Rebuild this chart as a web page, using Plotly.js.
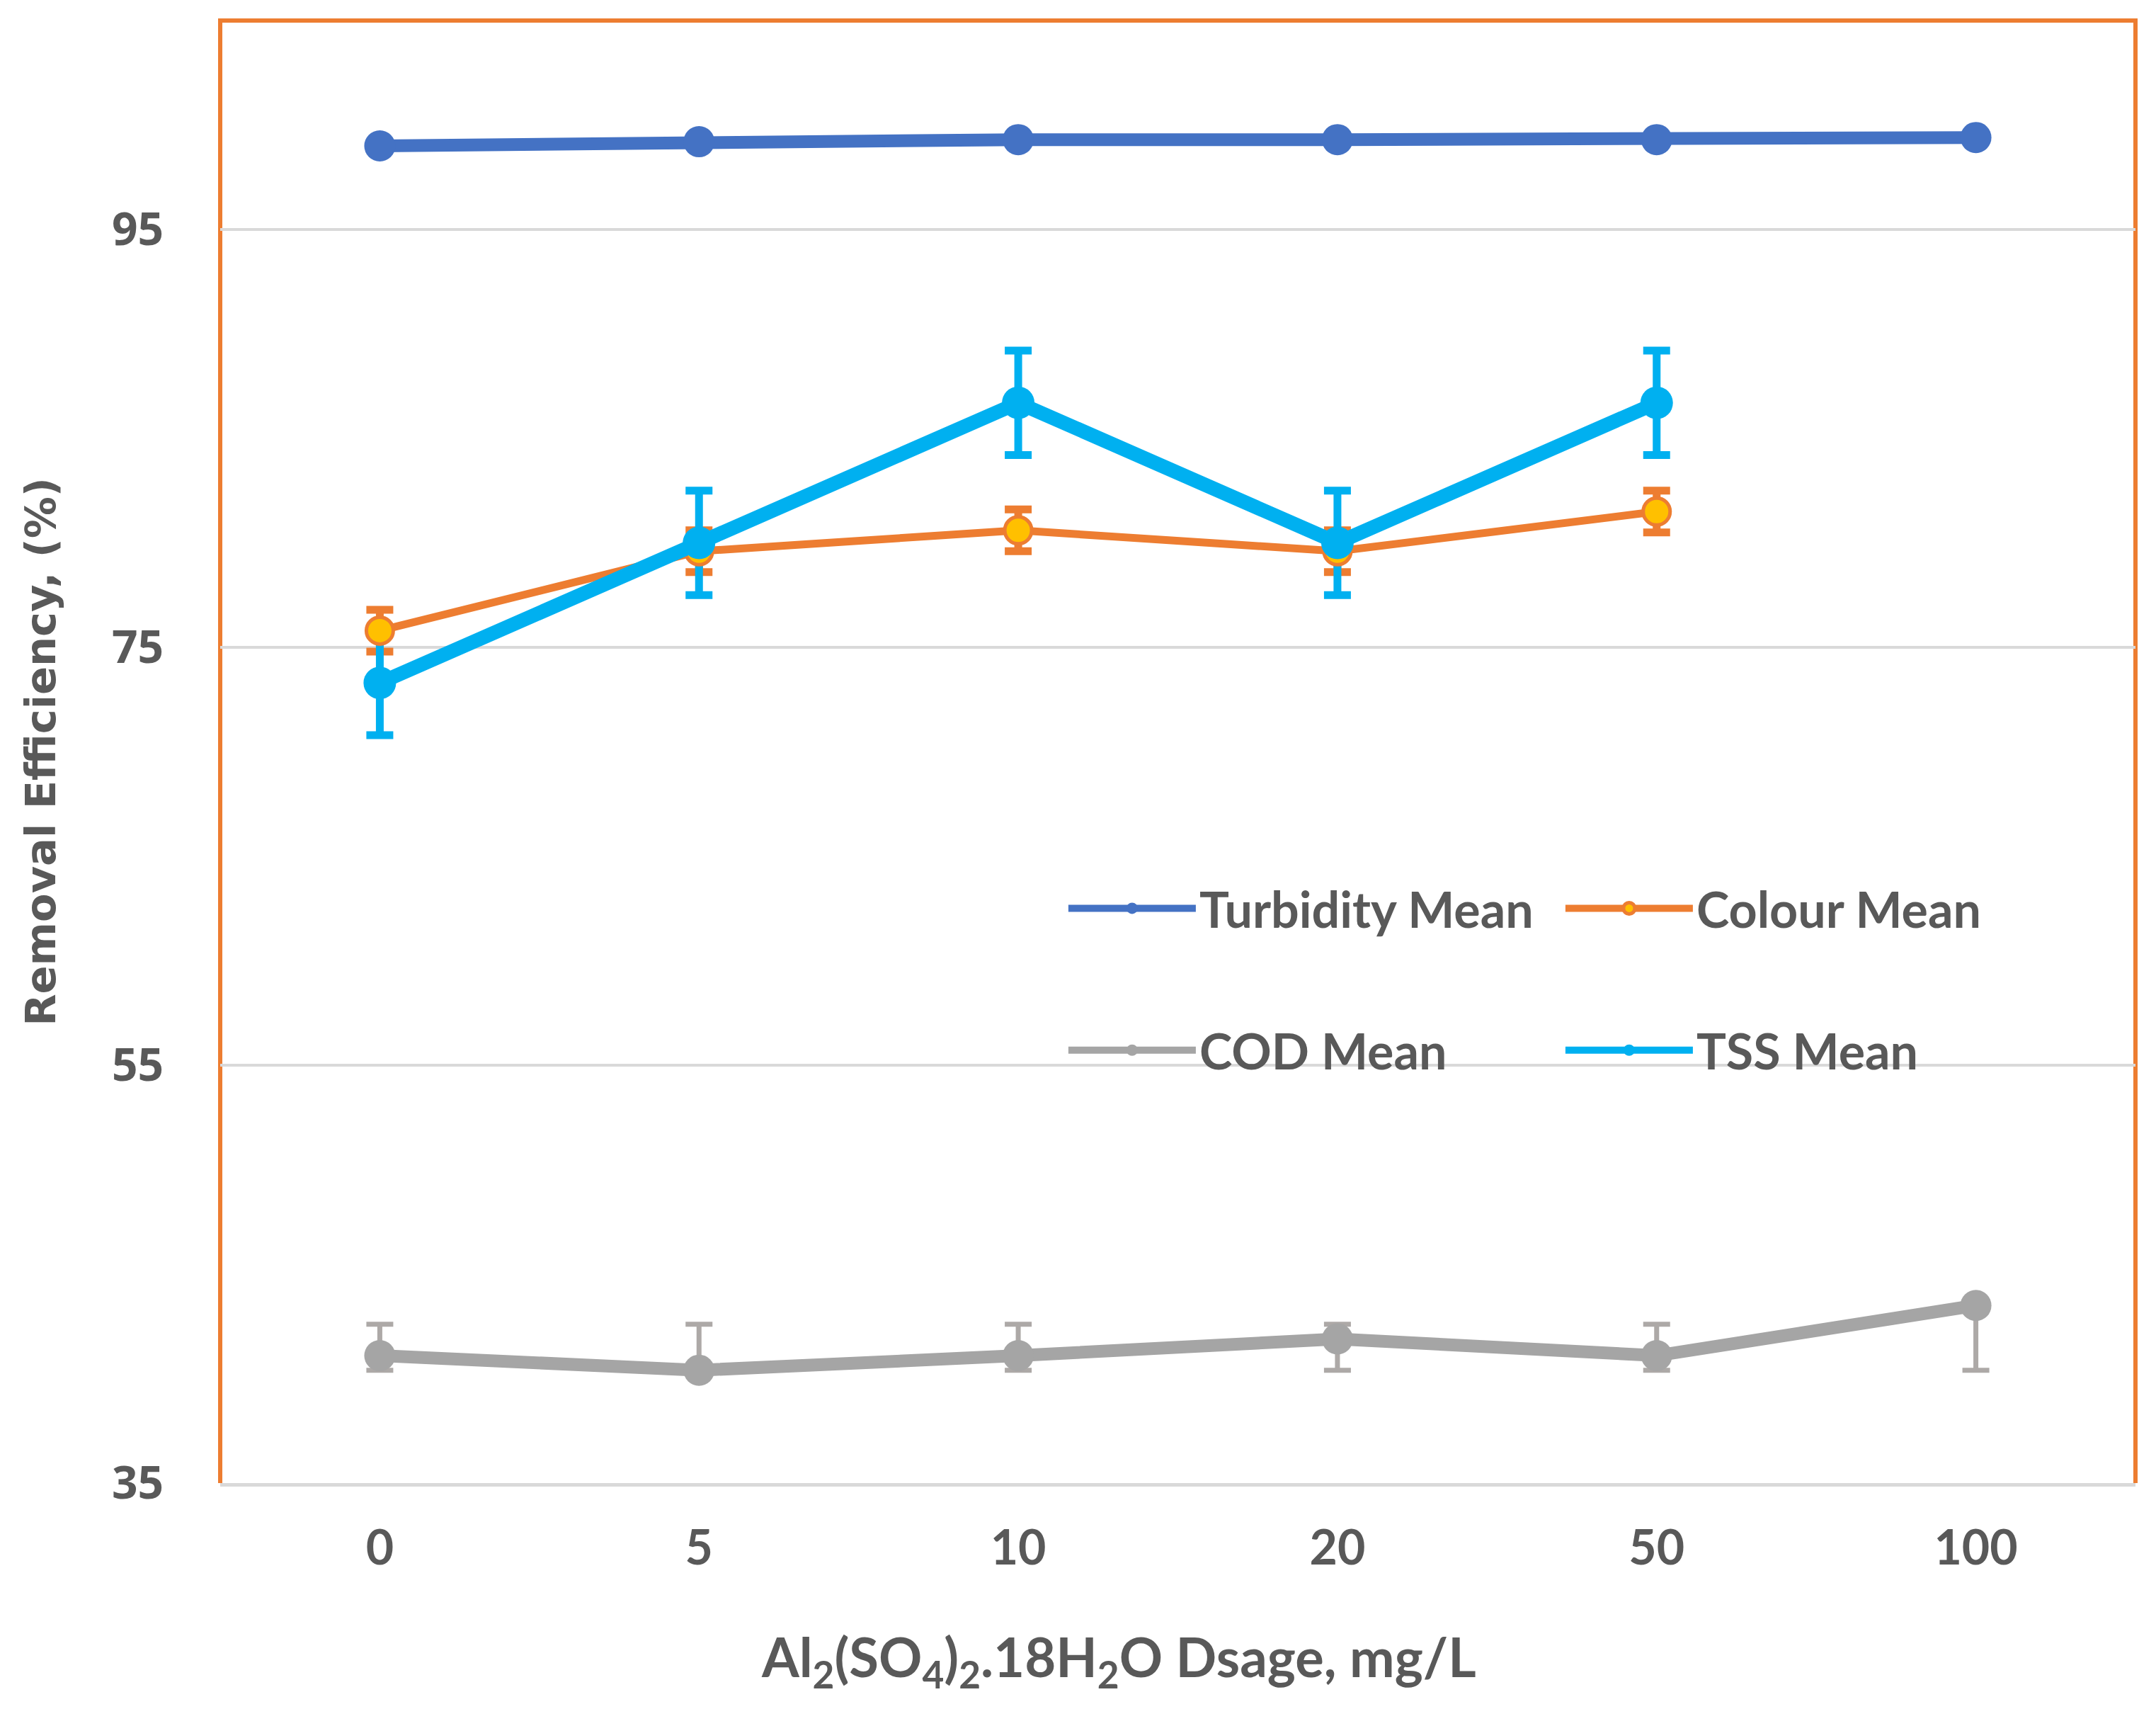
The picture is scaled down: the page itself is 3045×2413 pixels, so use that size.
<!DOCTYPE html>
<html>
<head>
<meta charset="utf-8">
<script src="https://cdn.plot.ly/plotly-3.0.1.min.js"></script>
<style>
  html, body { margin: 0; padding: 0; background: #ffffff; }
  #chart { width: 3045px; height: 2413px; }
</style>
</head>
<body>
<div id="chart"></div>
<script>
    // --- DATA ---
    const doses = ['0', '5', '10', '20', '50', '100'];
    const yTicks = [35, 55, 75, 95];

    const turbidityMean = [99.0, 99.2, 99.3, 99.3, 99.3, 99.4];

    const colourMean = [75.8, 79.6, 80.6, 79.6, 81.5];
    const colourErr = [1.0, 1.0, 1.0, 1.0, 1.0];

    const codMean = [41.1, 40.4, 41.1, 41.9, 41.1, 43.5];
    const codErrPlus = [1.5, 2.2, 1.5, 0.7, 1.5, 0];
    const codErrMinus = [0.7, 0, 0.7, 1.5, 0.7, 3.1];

    const tssMean = [73.3, 80.0, 86.7, 80.0, 86.7];
    const tssErr = [2.5, 2.5, 2.5, 2.5, 2.5];

    // --- PALETTE ---
    const colors = {
        blue: '#4472C4',
        orange: '#ED7D31',
        gold: '#FFC000',
        grey: '#A5A5A5',
        greyBar: '#ADA9A7',
        cyan: '#00B0F0',
        text: '#595959',
        grid: '#D9D9D9'
    };

    const narrow = 'Lato, "Open Sans", sans-serif';
    const boldFont = (size) => ({ family: narrow, size: size, color: colors.text, weight: 'bold' });

    // error bars go first so the markers sit on top of them
    function errorOnly(x, y, err, color, thickness) {
        return {
            type: 'scatter', mode: 'markers', x: x, y: y,
            marker: { size: 2, opacity: 0 },
            error_y: Object.assign({ type: 'data', visible: true, color: color, thickness: thickness, width: 19 }, err),
            showlegend: false, hoverinfo: 'skip'
        };
    }

    const traces = [
        errorOnly(doses.slice(0, 5), colourMean, { array: colourErr }, colors.orange, 11),
        errorOnly(doses.slice(0, 5), tssMean, { array: tssErr }, colors.cyan, 11),
        errorOnly(doses, codMean, { symmetric: false, array: codErrPlus, arrayminus: codErrMinus }, colors.greyBar, 7),
        {
            type: 'scatter', mode: 'lines+markers', name: 'Turbidity Mean',
            x: doses, y: turbidityMean,
            line: { color: colors.blue, width: 18 },
            marker: { color: colors.blue, size: 44 },
            legend: 'legend'
        },
        {
            type: 'scatter', mode: 'lines+markers', name: 'Colour Mean',
            x: doses.slice(0, 5), y: colourMean,
            line: { color: colors.orange, width: 11 },
            marker: { color: colors.gold, size: 38, line: { color: colors.orange, width: 5 } },
            legend: 'legend'
        },
        {
            type: 'scatter', mode: 'lines+markers', name: 'COD Mean',
            x: doses, y: codMean,
            line: { color: colors.grey, width: 18 },
            marker: { color: colors.grey, size: 44 },
            legend: 'legend2'
        },
        {
            type: 'scatter', mode: 'lines+markers', name: 'TSS Mean',
            x: doses.slice(0, 5), y: tssMean,
            line: { color: colors.cyan, width: 20 },
            marker: { color: colors.cyan, size: 46 },
            legend: 'legend2'
        }
    ];

    const legendBase = {
        orientation: 'h',
        x: 0.441, xanchor: 'left',
        yanchor: 'middle',
        entrywidth: 507, entrywidthmode: 'pixels',
        itemwidth: 180,
        bgcolor: 'rgba(0,0,0,0)',
        font: boldFont(70)
    };

    const layout = {
        width: 3045,
        height: 2413,
        margin: { l: 311, r: 29, t: 29, b: 319 },
        paper_bgcolor: '#ffffff',
        plot_bgcolor: '#ffffff',
        showlegend: true,
        xaxis: {
            type: 'category',
            range: [-0.5, 5.5],
            showgrid: false,
            zeroline: false,
            showline: true,
            linecolor: colors.grid,
            linewidth: 5,
            ticks: 'outside',
            ticklen: 28,
            tickcolor: 'rgba(0,0,0,0)',
            tickfont: boldFont(68),
            automargin: false
        },
        yaxis: {
            range: [35, 105],
            tickvals: yTicks,
            showgrid: true,
            gridcolor: colors.grid,
            gridwidth: 4,
            zeroline: false,
            showline: false,
            ticks: 'outside',
            ticklen: 66,
            tickcolor: 'rgba(0,0,0,0)',
            tickfont: { family: '"Open Sans", sans-serif', size: 64, color: colors.text, weight: 'bold' },
            automargin: false,
            title: {
                text: 'Removal Efficiency, (%)',
                font: { family: '"DejaVu Sans", sans-serif', size: 59, color: colors.text, weight: 'bold' },
                standoff: 60
            }
        },
        legend: Object.assign({}, legendBase, { y: 0.393 }),
        legend2: Object.assign({}, legendBase, { y: 0.296 }),
        // orange frame on left, top and right; the grey x axis line closes the bottom
        shapes: [{
            type: 'path', xref: 'paper', yref: 'paper',
            path: 'M0,0 L0,1 L1,1 L1,0',
            line: { color: colors.orange, width: 6 },
            layer: 'below'
        }],
        annotations: [{
            xref: 'paper', yref: 'paper',
            x: 0.469, y: -0.121,
            xanchor: 'center', yanchor: 'middle',
            showarrow: false,
            text: 'Al<sub>2</sub>(SO<sub>4</sub>)<sub>2</sub>.18H<sub>2</sub>O Dsage, mg/L',
            font: boldFont(76)
        }]
    };

    Plotly.newPlot('chart', traces, layout, { displayModeBar: false, staticPlot: true });
</script>
</body>
</html>
